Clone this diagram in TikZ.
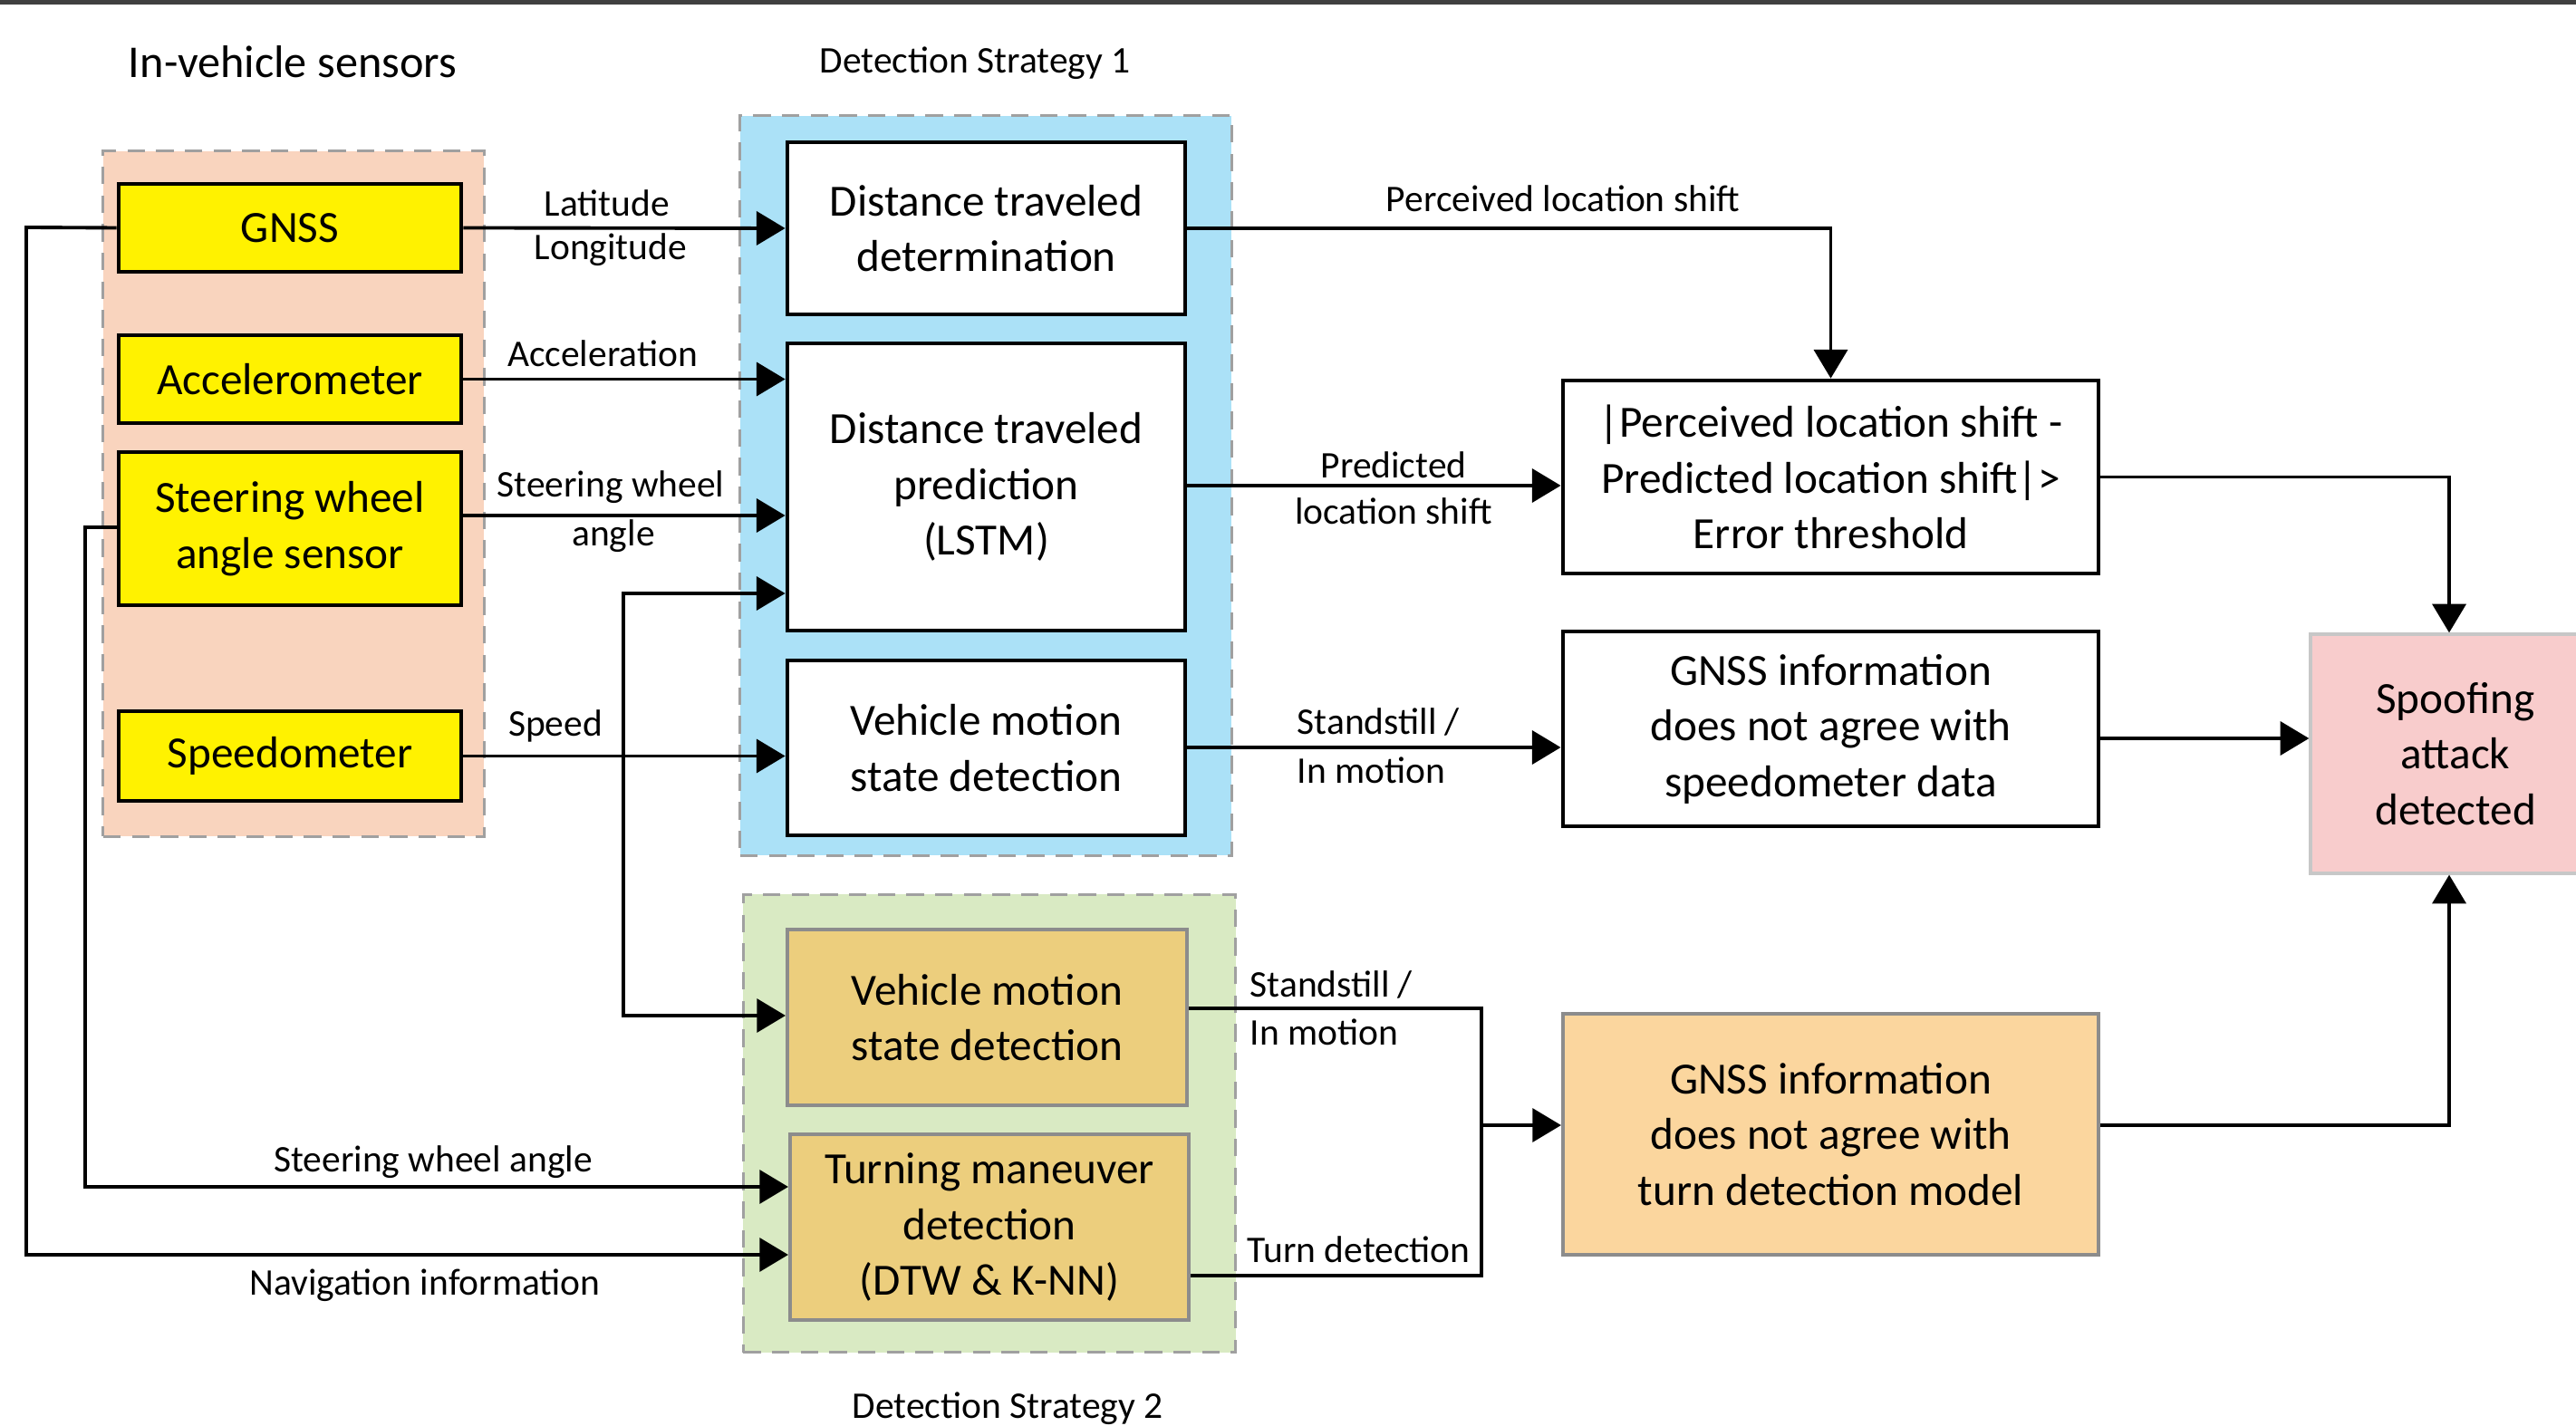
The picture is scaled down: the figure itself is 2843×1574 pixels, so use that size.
\documentclass[tikz,border=0pt]{standalone}
\usepackage{fontspec}
\setmainfont{Carlito}
\usetikzlibrary{arrows.meta}

\definecolor{sensbg}{RGB}{249,212,190}
\definecolor{sensfill}{RGB}{255,242,0}
\definecolor{stratAbg}{RGB}{171,225,247}
\definecolor{stratBbg}{RGB}{217,234,195}
\definecolor{motionfill}{RGB}{236,206,125}
\definecolor{turnfill}{RGB}{251,214,158}
\definecolor{alarmfill}{RGB}{248,204,204}
\definecolor{grpline}{RGB}{160,160,160}

\newcommand{\boxfont}{\fontsize{14}{17.5}\selectfont}
\newcommand{\lblfont}{\fontsize{11.8}{14}\selectfont}

\begin{document}
\begin{tikzpicture}[x=0.01cm, y=-0.01cm,
  every node/.style={font=\lblfont, inner sep=0pt},
  grp/.style={draw=grpline, line width=0.9pt, dash pattern=on 5.5pt off 3.5pt},
  cbox/.style={draw=black, line width=1.3pt, font=\boxfont, align=center, inner sep=0pt},
  sbox/.style={cbox, fill=sensfill},
  wbox/.style={cbox, fill=white},
  obox/.style={cbox, draw=black!45, line width=1.1pt},
  arr/.style={-{Triangle[length=9pt, width=10.5pt]}, line width=1.1pt},
  lnk/.style={line width=1.1pt}]

  \useasboundingbox (0,0) rectangle (2843,1574);
  \fill[black!75] (0,0) rectangle (2843,5);

  % group backgrounds
  \node[grp, fill=sensbg,   minimum width=4.20cm, minimum height=7.56cm] (sensors) at (324,545) {};
  \node[grp, fill=stratAbg, minimum width=5.42cm, minimum height=8.16cm] (stratA)  at (1088,536) {};
  \node[grp, fill=stratBbg, minimum width=5.43cm, minimum height=5.05cm] (stratB)  at (1092,1240) {};

  \node[font=\fontsize{14.3}{17}\selectfont] (senstitle) at (323,68) {In-vehicle sensors};
  \node (stratAtitle) at (1076,70)   {Detection Strategy 1};
  \node (stratBtitle) at (1112,1555) {Detection Strategy 2};

  % sensors
  \node[sbox, minimum width=3.78cm, minimum height=0.97cm] (gnss)   at (320,251.5) {GNSS};
  \node[sbox, minimum width=3.78cm, minimum height=0.97cm] (acc)    at (320,418.5) {Accelerometer};
  \node[sbox, minimum width=3.78cm, minimum height=1.69cm] (steer)  at (320,583.5) {Steering wheel\\angle sensor};
  \node[sbox, minimum width=3.78cm, minimum height=0.99cm] (speedo) at (320,834.5) {Speedometer};

  % strategy 1
  \node[wbox, minimum width=4.39cm, minimum height=1.90cm] (dtd)  at (1088.5,252)   {Distance traveled\\determination};
  \node[wbox, minimum width=4.39cm, minimum height=3.17cm] (dtp)  at (1088.5,537.5) {Distance traveled\\prediction\\(LSTM)};
  \node[wbox, minimum width=4.39cm, minimum height=1.93cm] (vmsA) at (1088.5,825.5) {Vehicle motion\\state detection};

  % strategy 2
  \node[obox, fill=motionfill, minimum width=4.41cm, minimum height=1.94cm] (vmsB) at (1089.5,1123) {Vehicle motion\\state detection};
  \node[obox, fill=motionfill, minimum width=4.40cm, minimum height=2.05cm] (turn) at (1092,1354.5) {Turning maneuver\\detection\\(DTW \& K-NN)};

  % checks and result
  \node[wbox, minimum width=5.91cm, minimum height=2.13cm] (cmp)     at (2020.5,526.5) {|Perceived location shift -\\Predicted location shift|>\\Error threshold};
  \node[wbox, minimum width=5.91cm, minimum height=2.15cm] (spdchk)  at (2020.5,804.5) {GNSS information\\does not agree with\\speedometer data};
  \node[obox, fill=turnfill, minimum width=5.91cm, minimum height=2.66cm] (turnchk) at (2020.5,1252) {GNSS information\\does not agree with\\turn detection model};
  \node[cbox, draw=black!22, line width=0.9pt, fill=alarmfill, minimum width=3.20cm, minimum height=2.64cm] (spoof) at (2710,832) {Spoofing\\attack\\detected};

  % sensor links
  \draw[arr] (gnss.east) -- (dtd.west);
  \draw[arr] (acc.east) -- (dtp.west |- acc.east);
  \draw[arr] (steer.east |- 0,569) -- (dtp.west |- 0,569);
  \draw[arr] (speedo.east) -- (vmsA.west |- speedo.east);
  \coordinate (split) at (688,834);
  \draw[arr] (split) |- (dtp.west |- 0,655);
  \draw[arr] (split) |- (vmsB.west |- 0,1121);
  \draw[arr] (steer.west |- 0,582) -- (94,582) |- (turn.west |- 0,1310);
  \draw[arr] (gnss.west) -- (29,251) |- (turn.west |- 0,1385);

  \node (lat)   at (670,224)  {Latitude};
  \node (lon)   at (674,276)  {Longitude};
  \node (accl)  at (665,390)  {Acceleration};
  \node (swa)   at (674,538)  {Steering wheel};
  \node (swb)   at (677,592)  {angle};
  \node (spd)   at (613,801)  {Speed};
  \node (swc)   at (478,1283) {Steering wheel angle};
  \node (nav)   at (469,1419) {Navigation information};

  % strategy outputs
  \draw[arr] (dtd.east) -| (cmp.north);
  \draw[arr] (dtp.east |- 0,536) -- (cmp.west |- 0,536);
  \draw[arr] (vmsA.east |- 0,825) -- (spdchk.west |- 0,825);
  \coordinate (merge) at (1635,1242);
  \draw[lnk] (vmsB.east |- 0,1113) -| (1635,1408) -- (turn.east |- 0,1408);
  \draw[arr] (merge) -- (turnchk.west |- merge);

  \node (pls)   at (1725,219) {Perceived location shift};
  \node (prda)  at (1538,513) {Predicted};
  \node (prdb)  at (1538,564) {location shift};
  \node[anchor=west] (ssA) at (1431,797)  {Standstill /};
  \node[anchor=west] (imA) at (1431,850)  {In motion};
  \node[anchor=west] (ssB) at (1379,1087) {Standstill /};
  \node[anchor=west] (imB) at (1379,1139) {In motion};
  \node[anchor=west] (tdt) at (1376,1379) {Turn detection};

  % alarm
  \draw[arr] (cmp.east) -| (spoof.north -| 2703,0);
  \draw[arr] (spdchk.east |- 0,815) -- (spoof.west |- 0,815);
  \draw[arr] (turnchk.east |- 0,1242) -| (spoof.south -| 2703,0);
\end{tikzpicture}
\end{document}
